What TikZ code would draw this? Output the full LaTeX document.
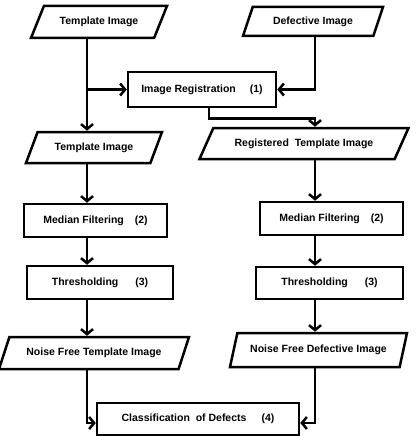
\documentclass[tikz,border=0pt]{standalone}
\usepackage{fontspec}
\setmainfont{Liberation Sans}
\usetikzlibrary{arrows.meta}
\usetikzlibrary{shapes.geometric}
\usetikzlibrary{calc}

\begin{document}
\begin{tikzpicture}[x=1pt,y=-1pt,
    font=\fontsize{10.5}{12}\selectfont\bfseries,
    procbox/.style={draw, line width=2.5pt, rectangle, inner sep=2pt},
    iobox/.style={draw, line width=2.5pt, trapezium, trapezium left angle=#1,
        trapezium right angle=180-#1, trapezium stretches body, inner sep=2pt},
    iobox/.default=50,
    flow/.style={line width=2.5pt, -{Straight Barb[length=5pt,width=12pt]}}]

    \useasboundingbox (0,0) rectangle (416,436);

    % columns of the two flows
    \coordinate (lcol) at (87,0);
    \coordinate (rcol) at (315,0);

    % inputs and registration
    \node[iobox=47, minimum width=136pt, minimum height=32pt] (tmpl) at (99,22) {Template Image};
    \node[iobox=55, minimum width=140pt, minimum height=29pt] (defect) at (313,21.5) {Defective Image};
    \node[procbox, minimum width=148pt, minimum height=35pt] (reg) at (202,89.5) {Image Registration\hspace{14pt}(1)};

    % left flow
    \node[iobox=50, minimum width=136pt, minimum height=31pt] (tmplB) at (94,147.5) {Template Image};
    \node[procbox, minimum width=143pt, minimum height=33pt] (medL) at (95.5,220.5) {Median Filtering\hspace{11pt}(2)};
    \node[procbox, minimum width=146pt, minimum height=33pt] (thrL) at (100,282.5) {Thresholding\hspace{17pt}(3)};
    \node[iobox=53, minimum width=190pt, minimum height=32pt] (nfL) at (94,353) {Noise Free Template Image};

    % right flow
    \node[iobox=45, minimum width=209pt, minimum height=31pt] (regt) at (304,143.5) {Registered\ \ Template Image};
    \node[procbox, minimum width=143pt, minimum height=33pt] (medR) at (331.5,218.5) {Median Filtering\hspace{11pt}(2)};
    \node[procbox, minimum width=147pt, minimum height=32pt] (thrR) at (329.5,283) {Thresholding\hspace{17pt}(3)};
    \node[iobox=62, minimum width=177pt, minimum height=34pt] (nfR) at (318.5,350) {Noise Free Defective Image};

    % result
    \node[procbox, minimum width=202pt, minimum height=32pt] (class) at (198,419) {Classification\ \ of Defects\hspace{15pt}(4)};

    % connectors
    \draw[flow] (tmpl.south -| lcol) -- (tmplB.north -| lcol);
    \draw[flow] (reg.west -| lcol) -- (reg.west);
    \draw[flow] (defect.south -| rcol) |- (reg.east);
    \draw[flow] ([xshift=7pt]reg.south) -- ++(0,10) -| (regt.north -| rcol);

    \draw[flow] (tmplB.south -| lcol) -- (medL.north -| lcol);
    \draw[flow] (medL.south -| lcol) -- (thrL.north -| lcol);
    \draw[flow] (thrL.south -| lcol) -- (nfL.north -| lcol);
    \draw[flow] (nfL.south -| lcol) |- ([yshift=-4pt]class.west);

    \draw[flow] (regt.south -| rcol) -- (medR.north -| rcol);
    \draw[flow] (medR.south -| rcol) -- (thrR.north -| rcol);
    \draw[flow] (thrR.south -| rcol) -- (nfR.north -| rcol);
    \draw[flow] (nfR.south -| rcol) |- ([yshift=-4pt]class.east);

\end{tikzpicture}
\end{document}
